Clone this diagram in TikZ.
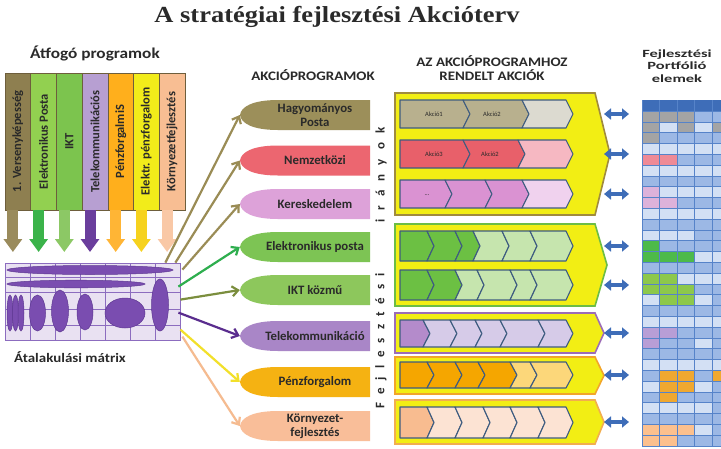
\documentclass[tikz,border=0pt]{standalone}
\usepackage{fontspec}
\setmainfont{Liberation Serif}
\setsansfont{Carlito}
\usetikzlibrary{arrows.meta}

\definecolor{txtdark}{HTML}{2A2A2A}
\definecolor{colframe}{HTML}{6E5E3C}
\definecolor{colA}{HTML}{8E7F50}\definecolor{colB}{HTML}{92D050}
\definecolor{colC}{HTML}{7CC44E}\definecolor{colD}{HTML}{B79FD2}
\definecolor{colE}{HTML}{FFAF1C}\definecolor{colF}{HTML}{F2EC1A}
\definecolor{colG}{HTML}{F8BE93}
\definecolor{caA}{HTML}{9A8B5C}\definecolor{caB}{HTML}{3BB34A}
\definecolor{caC}{HTML}{8CC865}\definecolor{caD}{HTML}{6A3E9C}
\definecolor{caE}{HTML}{FFB535}\definecolor{caF}{HTML}{F6D21E}
\definecolor{caG}{HTML}{F9C8A6}
\definecolor{matfill}{HTML}{E9E1F2}\definecolor{matline}{HTML}{8C6CBF}
\definecolor{ellfill}{HTML}{7A4DB0}\definecolor{elldraw}{HTML}{5E3892}
\definecolor{prA}{HTML}{9C8F5A}\definecolor{prB}{HTML}{EC6670}
\definecolor{prC}{HTML}{DDA2D9}\definecolor{prD}{HTML}{7DC454}
\definecolor{prE}{HTML}{8DC75C}\definecolor{prF}{HTML}{A986C7}
\definecolor{prG}{HTML}{F5B212}\definecolor{prH}{HTML}{F9BE99}
\definecolor{maA}{HTML}{9A8C55}\definecolor{maD}{HTML}{2EAE4E}
\definecolor{maE}{HTML}{7B8E3E}\definecolor{maF}{HTML}{5A2D8E}
\definecolor{maG}{HTML}{F2E02A}\definecolor{maH}{HTML}{F5BB90}
\definecolor{contfill}{HTML}{F2EE14}
\definecolor{cbA}{HTML}{A08B3E}\definecolor{cbB}{HTML}{6CBD45}
\definecolor{cbC}{HTML}{9C6CB6}\definecolor{cbD}{HTML}{F2A52A}
\definecolor{cbE}{HTML}{F2AE4E}
\definecolor{segframe}{HTML}{3E5C80}
\definecolor{rAa}{HTML}{B8B08E}\definecolor{rAb}{HTML}{DCDAD0}
\definecolor{rBa}{HTML}{E8606A}\definecolor{rBb}{HTML}{F6B8C2}
\definecolor{rCa}{HTML}{DA92D2}\definecolor{rCb}{HTML}{F0D2EE}
\definecolor{rDa}{HTML}{6CC043}\definecolor{rDb}{HTML}{C6E5AE}
\definecolor{rFa}{HTML}{B48BCB}\definecolor{rFb}{HTML}{D6CBE8}
\definecolor{rGa}{HTML}{F5A600}\definecolor{rGb}{HTML}{FCD77A}
\definecolor{rHa}{HTML}{F8BC90}\definecolor{rHb}{HTML}{FCE3D3}
\definecolor{arrblue}{HTML}{3E6DB8}
\definecolor{gridline}{HTML}{5683C9}
\definecolor{cellG}{HTML}{A4A4A4}\definecolor{cellM}{HTML}{9CB8E5}
\definecolor{cellL}{HTML}{D3E0F4}\definecolor{cellR}{HTML}{EE8A96}
\definecolor{cellP}{HTML}{DDB2DA}\definecolor{cellD}{HTML}{4DBA4A}
\definecolor{cellE}{HTML}{8DC84B}\definecolor{cellU}{HTML}{B89ED6}
\definecolor{cellO}{HTML}{F0A830}\definecolor{cellK}{HTML}{FCC08E}

% one row of chevrons: top, bottom, list x0/x1/colour
\newcommand{\actrow}[3]{%
  \foreach \xa/\xb/\cl [count=\n] in {#3}{
    \pgfmathsetmacro{\nd}{\n==1 ? 0 : 7}
    \filldraw[segline, fill=\cl] (\xa,#1) -- (\xb,#1) -- (\xb+7,{(#1+#2)/2})
      -- (\xb,#2) -- (\xa,#2) -- (\xa+\nd,{(#1+#2)/2}) -- cycle;
  }}
% container with arrow point: top, bottom, border, point depth
\newcommand{\actbox}[4]{%
  \filldraw[fill=contfill, draw=#3, line width=1.6pt] (395,#1) -- (595,#1)
    -- (595+#4,{(#1+#2)/2}) -- (595,#2) -- (395,#2) -- cycle;}
% gaps of the spaced-out vertical text
\newcommand{\lspa}{\hspace{9pt}}
\newcommand{\lspb}{\hspace{8pt}}

\begin{document}
\begin{tikzpicture}[x=1pt,y=-1pt,
  hdr/.style={font=\sffamily\bfseries\fontsize{13}{14}\selectfont, text=txtdark, align=center, xscale=1.15},
  colbox/.style={rotate=90, minimum width=137pt, minimum height=25.7pt, inner sep=0pt,
    draw=colframe, line width=0.6pt, font=\sffamily\bfseries\fontsize{12.5}{13}\selectfont, text=txtdark},
  colarrow/.style={line width=11pt, draw=#1, -{Triangle[width=18pt,length=13pt]}},
  progbox/.style={minimum width=130pt, minimum height=30pt, inner sep=0pt,
    path picture={\fill[#1] (path picture bounding box.north east)
      -- ([xshift=-92pt]path picture bounding box.north east)
      .. controls ([xshift=-118pt]path picture bounding box.north east)
      and ([xshift=1pt,yshift=8pt]path picture bounding box.west) .. (path picture bounding box.west)
      .. controls ([xshift=1pt,yshift=-8pt]path picture bounding box.west)
      and ([xshift=-118pt]path picture bounding box.south east) .. ([xshift=-92pt]path picture bounding box.south east)
      -- (path picture bounding box.south east) -- cycle;}},
  progtext/.style={font=\sffamily\bfseries\fontsize{12.8}{13.5}\selectfont, align=center, xshift=10pt, text=txtdark},
  matarrow/.style={line width=2.2pt, draw=#1, -{Straight Barb[length=6pt,width=10pt]}},
  segline/.style={draw=segframe, line width=1.1pt, line join=round},
  acttext/.style={font=\sffamily\fontsize{6.5}{7}\selectfont, text=txtdark},
  vtext/.style={rotate=90, font=\sffamily\bfseries\fontsize{13}{14}\selectfont, text=txtdark},
  dblarrow/.style={line width=4.5pt, draw=arrblue, {Triangle[width=11pt,length=7pt]}-{Triangle[width=11pt,length=7pt]}},
]
\useasboundingbox[fill=white] (0,0) rectangle (721,448);

% headings
\node[font=\bfseries\fontsize{23}{26}\selectfont, text=txtdark, xscale=1.15] (title) at (337,17) {A stratégiai fejlesztési Akcióterv};
\node[hdr, font=\sffamily\bfseries\fontsize{15}{16}\selectfont] (hfog) at (95,53) {Átfogó programok};
\node[hdr] (hakc) at (313,75) {AKCIÓPROGRAMOK};
\node[hdr] (hrend) at (492,68) {AZ AKCIÓPROGRAMHOZ\\RENDELT AKCIÓK};
\node[hdr, font=\sffamily\bfseries\fontsize{11}{12.5}\selectfont, xscale=1.3] (hport) at (677,66) {Fejlesztési\\Portfólió\\elemek};
\node[hdr] (hmat) at (70,357) {Átalakulási mátrix};

% overarching programmes
\node[colbox, fill=colA] (col1) at (17.9,141.5) {1. Versenyképesség};
\node[colbox, fill=colB] (col2) at (43.6,141.5) {Elektronikus Posta};
\node[colbox, fill=colC] (col3) at (69.3,141.5) {IKT};
\node[colbox, fill=colD] (col4) at (95.0,141.5) {Telekommunikációs};
\node[colbox, fill=colE] (col5) at (120.7,141.5) {PénzforgalmiS};
\node[colbox, fill=colF] (col6) at (146.4,141.5) {Elektr. pénzforgalom};
\node[colbox, fill=colG] (col7) at (172.1,141.5) {Környezetfejlesztés};
\coordinate (arrbase) at (0,252);
\foreach \i/\c in {1/caA,2/caB,3/caC,4/caD,5/caE,6/caF,7/caG}
  \draw[colarrow=\c] ([xshift=-5pt]col\i.west) -- ([xshift=-5pt]col\i.west |- arrbase);

% transformation matrix
\node[draw=matline, fill=matfill, line width=0.8pt, minimum width=175pt, minimum height=77pt, inner sep=0pt] (mat) at (92.5,301.5) {};
\foreach \x in {30,55,80,105,130,155}
  \draw[matline, line width=0.6pt] (\x,263) -- (\x,340);
\foreach \y in {277,292,309,325}
  \draw[matline, line width=0.6pt] (5,\y) -- (180,\y);
\foreach \cx/\cy/\rx/\ry in {90/270/83/4.5, 76/284/69/3.8, 10/313/3/18, 15.5/313/3/18, 21/313/3/18,
    37.5/313/8/18, 60/311/8.5/21, 85/312/8/18, 125/313/20/15, 160/305/8.5/26}
  \filldraw[fill=ellfill, draw=elldraw, line width=0.5pt] (\cx,\cy) ellipse [x radius=\rx, y radius=\ry];

% action programmes
\node[progbox=prA, label={[progtext]center:Hagyományos\\Posta}] (p1) at (305,115) {};
\node[progbox=prB, label={[progtext]center:Nemzetközi}] (p2) at (305,160.5) {};
\node[progbox=prC, label={[progtext]center:Kereskedelem}] (p3) at (305,204) {};
\node[progbox=prD, label={[progtext]center:Elektronikus posta}] (p4) at (305,247) {};
\node[progbox=prE, label={[progtext]center:IKT közmű}] (p5) at (305,290) {};
\node[progbox=prF, label={[progtext]center:Telekommunikáció}] (p6) at (305,336) {};
\node[progbox=prG, label={[progtext]center:Pénzforgalom}] (p7) at (305,382) {};
\node[progbox=prH, label={[progtext]center:Környezet-\\fejlesztés}] (p8) at (305,426) {};

\draw[matarrow=maA] ([xshift=-15pt]mat.north east) -- (p1.west);
\draw[matarrow=maA] ([xshift=-5pt]mat.north east) -- (p2.west);
\draw[matarrow=maA] ([xshift=2pt,yshift=-7pt]mat.north east) -- (p3.west);
\draw[matarrow=maD] ([xshift=-2pt,yshift=-24pt]mat.north east) -- (p4.west);
\draw[matarrow=maE] ([yshift=-37pt]mat.north east) -- (p5.west);
\draw[matarrow=maF] ([xshift=-2pt,yshift=-50pt]mat.north east) -- (p6.west);
\draw[matarrow=maG] ([yshift=-67pt]mat.north east) -- (p7.west);
\draw[matarrow=maH] ([xshift=2pt,yshift=-74pt]mat.north east) -- (p8.west);

\node[vtext] (vt1) at (381,175) {i\lspa r\lspa á\lspa n\lspa y\lspa o\lspa k};
\node[vtext] (vt2) at (381,341) {F\lspb e\lspb j\lspb l\lspb e\lspb s\lspb z\lspb t\lspb é\lspb s\lspb i};

% assigned actions
\actbox{93}{215}{cbA}{15}
\actbox{224}{306}{cbB}{12}
\actbox{313}{353}{cbC}{9}
\actbox{357}{394}{cbD}{9}
\actbox{400}{444}{cbE}{9}
\actrow{100}{128}{400/463/rAa, 463/522/rAa, 522/566/rAb}
\actrow{140}{168}{400/463/rBa, 463/518/rBa, 518/566/rBb}
\actrow{180}{208}{400/445/rCa, 445/485/rCa, 485/522/rCa, 522/566/rCb}
\actrow{231}{261}{400/427/rDa, 427/455/rDa, 455/473/rDa, 473/502/rDb, 502/530/rDb, 530/566/rDb}
\actrow{270}{300}{400/427/rDa, 427/455/rDa, 455/477/rDb, 477/510/rDb, 510/530/rDb, 530/566/rDb}
\actrow{320}{347}{400/423/rFa, 423/450/rFb, 450/475/rFb, 475/500/rFb, 500/538/rFb, 538/566/rFb}
\actrow{362}{388}{400/427/rGa, 427/455/rGa, 455/478/rGa, 478/510/rGa, 510/530/rGb, 530/566/rGb}
\actrow{407}{438}{400/427/rHa, 427/455/rHb, 455/483/rHb, 483/510/rHb, 510/538/rHb, 538/566/rHb}
\node[acttext] (a1) at (434,114) {Akció1};
\node[acttext] (a2) at (492,114) {Akció2};
\node[acttext] (a3) at (434,154) {Akció3};
\node[acttext] (a4) at (490,154) {Akció2};
\node[acttext] (a5) at (427,195) {...};

% portfolio grid
\fill[arrblue] (642,100) rectangle (721,111);
\foreach \row [count=\r from 0] in {{G,G,G,M,M},{G,L,G,L,G},{G,M,M,M,M},{L,L,L,L,L},{R,R,M,M,M},
    {L,L,L,L,L},{M,M,M,M,M},{P,L,L,L,L},{P,P,M,M,M},{L,L,L,L,L},{M,M,M,M,M},{L,L,L,M,M},
    {D,M,M,M,M},{D,D,D,L,L},{M,M,M,M,M},{E,E,L,L,L},{E,E,E,M,M},{L,E,E,L,M},{M,M,M,M,M},
    {L,L,L,L,L},{U,U,M,M,M},{U,M,M,L,M},{M,M,M,M,M},{L,L,L,L,L},{M,O,O,M,O},{L,O,O,L,M},
    {M,O,M,M,M},{L,L,L,L,M},{M,M,M,M,M},{K,K,K,L,M},{K,K,M,M,M}}
  \foreach \cc [count=\k from 0] in \row
    \fill[fill=cell\cc] ({642+17.5*\k},{111+10.8*\r}) rectangle ++(17.5,10.8);
\foreach \k in {0,...,4}
  \draw[gridline, line width=0.6pt] ({642+17.5*\k},100) -- ({642+17.5*\k},446);
\foreach \r in {0,...,31}
  \draw[gridline, line width=0.6pt] (642,{111+10.8*\r}) -- (721,{111+10.8*\r});

% links between actions and portfolio
\foreach \y [count=\i] in {114,154,194,246,285,333,375,422}{
  \coordinate (dl\i) at (604,\y);
  \coordinate (dr\i) at (629,\y);
  \draw[dblarrow] (dl\i) -- (dr\i);
}
\end{tikzpicture}
\end{document}
